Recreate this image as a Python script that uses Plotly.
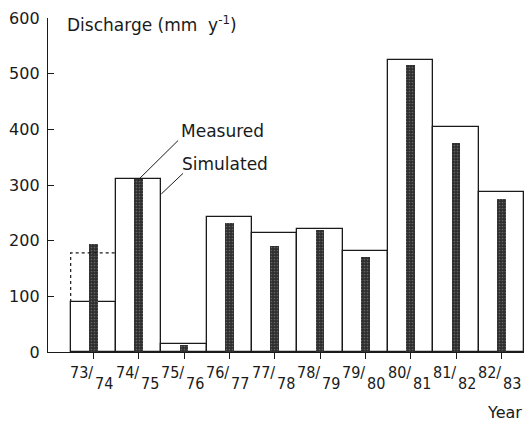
import plotly.graph_objects as go

# Hydrological years and annual discharge (mm/yr)
years = ["73/74", "74/75", "75/76", "76/77", "77/78",
         "78/79", "79/80", "80/81", "81/82", "82/83"]
measured = [90, 310, 15, 243, 213, 221, 182, 524, 404, 287]
simulated = [194, 310, 13, 231, 190, 220, 170, 515, 376, 274]
# alternative (estimated) measured value for the first year, drawn dotted
measured_alt_first = 178

y_ticks = [0, 100, 200, 300, 400, 500, 600]

FONT = "DejaVu Sans, sans-serif"
FONT_NARROW = "DejaVu Sans Condensed, DejaVu Sans, sans-serif"
INK = "#1a1a1a"

idx = list(range(len(years)))

fig = go.Figure()

fig.add_trace(go.Bar(
    x=idx, y=measured, width=1.0,
    marker=dict(color="white", line=dict(color=INK, width=1.3)),
    name="Measured", showlegend=False,
))

fig.add_trace(go.Bar(
    x=idx, y=simulated, width=0.19,
    marker=dict(
        color="#333333",
        line=dict(width=0),
        pattern=dict(shape=".", bgcolor="#2e2e2e", fgcolor="#9a9a9a",
                     size=3, solidity=0.25, fillmode="overlay"),
    ),
    name="Simulated", showlegend=False,
))

# dotted outline for the alternative first-year value
fig.add_trace(go.Scatter(
    x=[idx[0] - 0.5, idx[0] - 0.5, idx[0] + 0.5],
    y=[measured[0], measured_alt_first, measured_alt_first],
    mode="lines",
    line=dict(color=INK, width=1.2, dash="dot"),
    showlegend=False, hoverinfo="skip",
))

# callout lines for the two series
fig.add_shape(type="line", xref="x", yref="y",
              x0=1.87, y0=380, x1=idx[1], y1=simulated[1],
              line=dict(color=INK, width=1))
fig.add_shape(type="line", xref="x", yref="y",
              x0=1.98, y0=321, x1=idx[1] + 0.5, y1=284,
              line=dict(color=INK, width=1))

annotations = [
    dict(text="Measured", xref="x", yref="y", x=1.88, y=397,
         xanchor="left", yanchor="middle", showarrow=False,
         font=dict(size=17, family=FONT, color=INK)),
    dict(text="Simulated", xref="x", yref="y", x=1.92, y=337,
         xanchor="left", yanchor="middle", showarrow=False,
         font=dict(size=17, family=FONT, color=INK)),
    dict(text="Discharge (mm&nbsp;&nbsp;y<sup>-1</sup>)", xref="paper", yref="paper",
         x=0.035, y=1.0, xanchor="left", yanchor="top", yshift=7,
         showarrow=False, font=dict(size=17, family=FONT, color=INK)),
    dict(text="Year", xref="paper", yref="paper", x=1.0, y=0,
         xanchor="right", yanchor="top", yshift=-49, showarrow=False,
         font=dict(size=16, family=FONT, color=INK)),
]

# two-part year labels: "73/" on top, "74" lowered to the right
for i, lab in zip(idx, years):
    a, b = lab.split("/")
    annotations.append(dict(
        text=a + "/", xref="x", yref="paper", x=i, y=0,
        xanchor="right", yanchor="middle", xshift=1, yshift=-20,
        showarrow=False, borderpad=0,
        font=dict(size=16, family=FONT_NARROW, color=INK)))
    annotations.append(dict(
        text=b, xref="x", yref="paper", x=i, y=0,
        xanchor="left", yanchor="middle", xshift=1, yshift=-31,
        showarrow=False, borderpad=0,
        font=dict(size=16, family=FONT_NARROW, color=INK)))

fig.update_layout(
    width=525, height=422,
    margin=dict(l=48, r=1, t=18, b=70),
    paper_bgcolor="white", plot_bgcolor="white",
    barmode="overlay", bargap=0,
    annotations=annotations,
    font=dict(family=FONT, color=INK),
)

fig.update_xaxes(
    range=[-1, 9.5], showgrid=False, zeroline=False,
    showline=True, linecolor=INK, linewidth=1.3,
    tickmode="array", tickvals=idx, ticks="outside",
    ticklen=6, tickcolor=INK, tickwidth=1.2,
    showticklabels=False,
)
fig.update_yaxes(
    range=[0, 600], showgrid=False, zeroline=False,
    showline=True, linecolor=INK, linewidth=1.3,
    tickmode="array", tickvals=y_ticks, ticks="inside",
    ticklen=6, tickcolor=INK, tickwidth=1.2,
    ticklabelstandoff=4,
    tickfont=dict(size=16, family=FONT, color=INK),
)

fig.write_html("out.html")
